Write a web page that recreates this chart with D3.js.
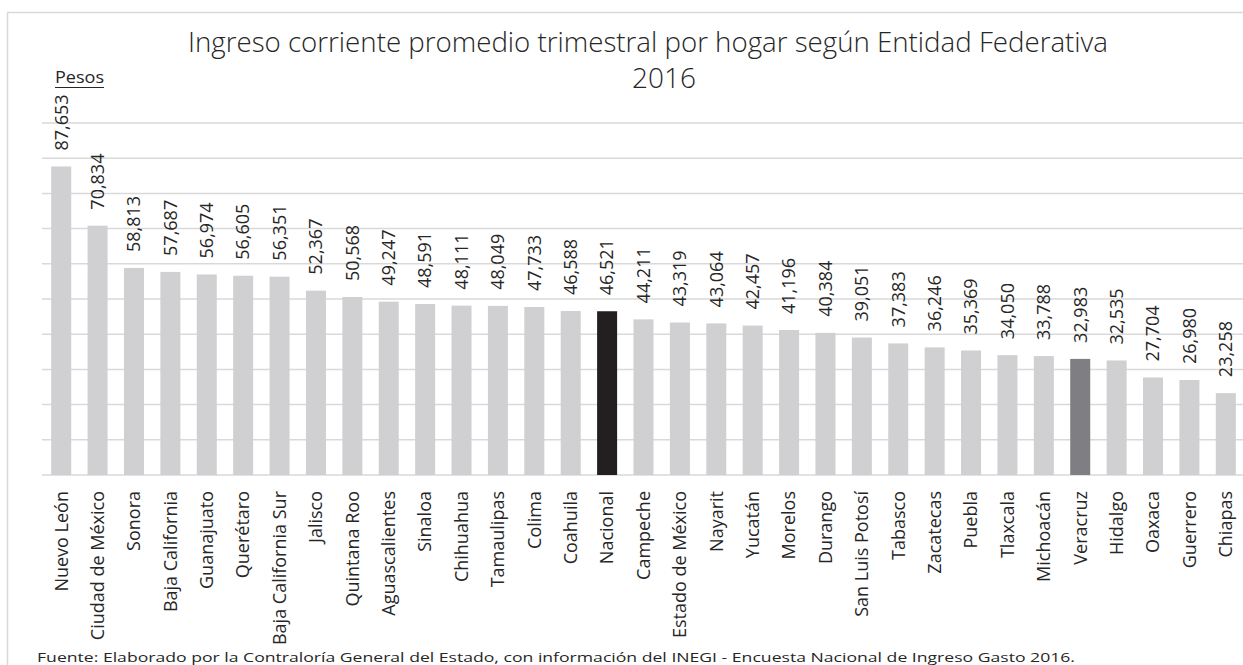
<!DOCTYPE html>
<html><head><meta charset="utf-8">
<script src="https://cdn.jsdelivr.net/npm/d3@7"></script>
<style>html,body{margin:0;padding:0;background:#fff;overflow:hidden}</style>
</head><body>
<svg id="c" width="1243" height="665"></svg>
<script>
const categories = ["Nuevo León","Ciudad de México","Sonora","Baja California","Guanajuato","Querétaro","Baja California Sur","Jalisco","Quintana Roo","Aguascalientes","Sinaloa","Chihuahua","Tamaulipas","Colima","Coahuila","Nacional","Campeche","Estado de México","Nayarit","Yucatán","Morelos","Durango","San Luis Potosí","Tabasco","Zacatecas","Puebla","Tlaxcala","Michoacán","Veracruz","Hidalgo","Oaxaca","Guerrero","Chiapas"];
const values = [87653,70834,58813,57687,56974,56605,56351,52367,50568,49247,48591,48111,48049,47733,46588,46521,44211,43319,43064,42457,41196,40384,39051,37383,36246,35369,34050,33788,32983,32535,27704,26980,23258];
const gridTicks = [0,10000,20000,30000,40000,50000,60000,70000,80000,90000,100000];
const titleLine1 = "Ingreso corriente promedio trimestral por hogar según Entidad Federativa";
const titleLine2 = "2016";
const unitLabel = "Pesos";
const sourceNote = "Fuente: Elaborado por la Contraloría General del Estado, con información del INEGI - Encuesta Nacional de Ingreso Gasto 2016.";

const svg = d3.select("#c");
const font = "'Open Sans', 'Noto Sans', sans-serif";
const textColor = "#262626";

// frame
svg.append("rect").attr("x",7.5).attr("y",12.5).attr("width",1260).attr("height",700)
  .attr("fill","none").attr("stroke","#d9d9d9").attr("stroke-width",1.5);

const x = d3.scaleBand().domain(categories).range([43,1244]).paddingInner(0.45).paddingOuter(0.225);
const y = d3.scaleLinear().domain([0,100000]).range([475,123]);

// gridlines
svg.append("g").selectAll("line").data(gridTicks).join("line")
  .attr("x1",42).attr("x2",1243).attr("y1",d=>y(d)).attr("y2",d=>y(d))
  .attr("stroke","#d9d9d9").attr("stroke-width",1.5);

const colorFor = c => c==="Nacional" ? "#231f20" : (c==="Veracruz" ? "#7f7f83" : "#d0d0d2");

svg.append("g").selectAll("rect").data(categories).join("rect")
  .attr("x",d=>x(d)).attr("width",x.bandwidth())
  .attr("y",(d,i)=>y(values[i])).attr("height",(d,i)=>y(0)-y(values[i]))
  .attr("fill",d=>colorFor(d));

const fmt = d3.format(",");
// value labels
svg.append("g").selectAll("text").data(categories).join("text")
  .attr("transform",(d,i)=>`translate(${x(d)+x.bandwidth()/2},${y(values[i])-16}) rotate(-90)`)
  .attr("dy","0.35em").attr("text-anchor","start")
  .style("font-family",font).style("font-size","18px").attr("fill",textColor)
  .text((d,i)=>fmt(values[i]));

// category labels
svg.append("g").selectAll("text").data(categories).join("text")
  .attr("transform",d=>`translate(${x(d)+x.bandwidth()/2},491) rotate(-90)`)
  .attr("dy","0.35em").attr("text-anchor","end")
  .style("font-family",font).style("font-size","18px").attr("fill",textColor)
  .text(d=>d);

// title
const t1 = svg.append("text").attr("x",648).attr("y",52).attr("text-anchor","middle")
  .style("font-family",font).style("font-size","27px").style("font-weight","300").attr("fill",textColor).text(titleLine1);
t1.attr("textLength",920).attr("lengthAdjust","spacingAndGlyphs");
svg.append("text").attr("x",664).attr("y",88).attr("text-anchor","middle")
  .style("font-family",font).style("font-size","28px").style("font-weight","300").attr("fill",textColor).text(titleLine2);

// unit label
const p = svg.append("text").attr("x",55).attr("y",83)
  .style("font-family",font).style("font-size","17px").attr("fill",textColor).text(unitLabel);
p.attr("textLength",49).attr("lengthAdjust","spacingAndGlyphs");
svg.append("line").attr("x1",55).attr("x2",104).attr("y1",87.5).attr("y2",87.5)
  .attr("stroke",textColor).attr("stroke-width",1);

// source
svg.append("text").attr("x",37).attr("y",662)
  .style("font-family",font).style("font-size","12.5px").attr("fill",textColor)
  .attr("textLength",1038).attr("lengthAdjust","spacingAndGlyphs").text(sourceNote);
</script>
</body></html>
